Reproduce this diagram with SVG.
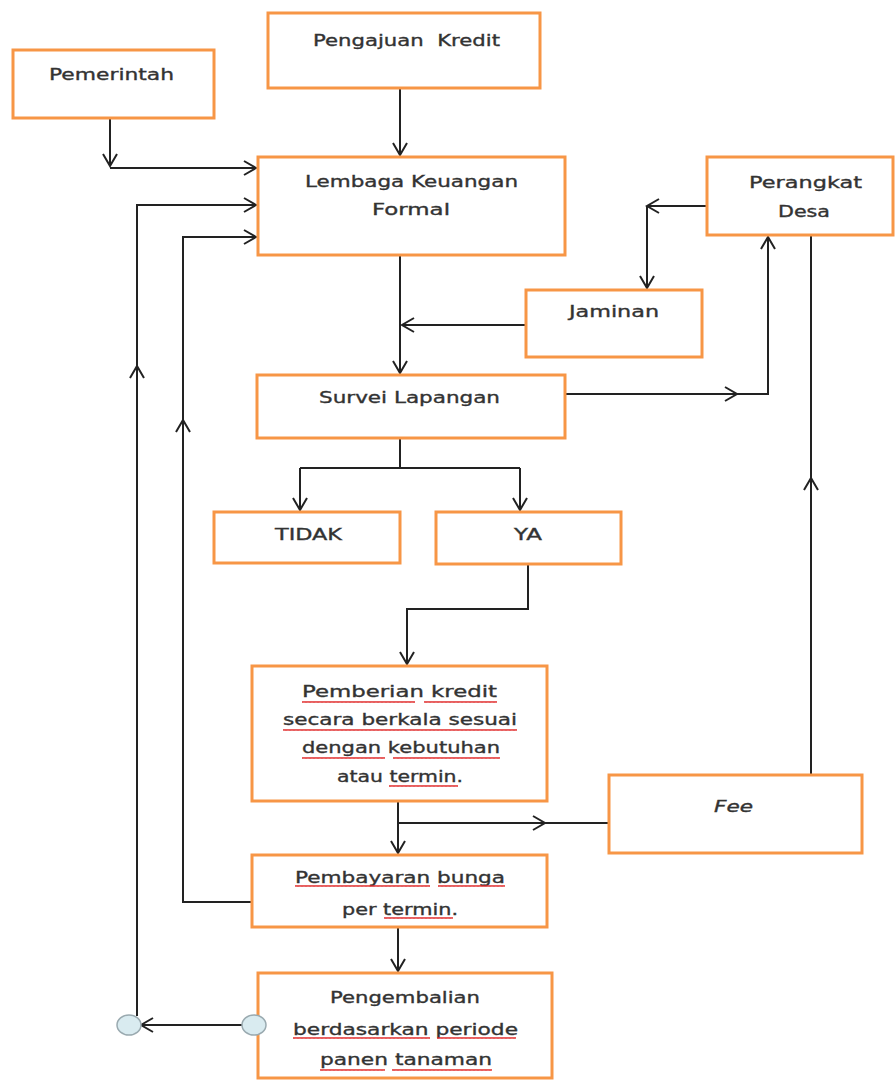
<svg xmlns="http://www.w3.org/2000/svg" width="896" height="1081" viewBox="0 0 896 1081">
<style>
.box{fill:#fff;stroke:#f79646;stroke-width:3}
.t{font-family:"DejaVu Sans","Liberation Sans",sans-serif;font-size:16px;fill:#333;stroke:#333;stroke-width:0.35}
.c{fill:none;stroke:#222;stroke-width:2}
.a{fill:none;stroke:#222;stroke-width:2;marker-end:url(#arr)}
.knob{fill:#d9ebf0;stroke:#9aaab0;stroke-width:1.5}
.sq{fill:url(#wavy)}
</style>
<defs>
<marker id="arr" viewBox="0 0 16 16" markerWidth="16" markerHeight="16" refX="14" refY="8" orient="auto" markerUnits="userSpaceOnUse">
<path d="M2,1 L14,8 L2,15" fill="none" stroke="#222" stroke-width="2"/>
</marker>
<pattern id="wavy" width="4" height="4" patternUnits="userSpaceOnUse">
<path d="M0,3 L1,1 L2,3 L3,1 L4,3" fill="none" stroke="#e02828" stroke-width="0.9"/>
</pattern>
</defs>

<g id="connectors">
<path class="a" d="M110,118 V166"/>
<path class="a" d="M110,168 H256"/>
<path class="a" d="M400,88 V155"/>
<path class="a" d="M137,1016 V366"/>
<path class="a" d="M137,368 V205 H256"/>
<path class="a" d="M252,902 H183 V420"/>
<path class="a" d="M183,422 V237 H256"/>
<path class="a" d="M400,255 V373"/>
<path class="a" d="M526,325 H402"/>
<path class="a" d="M707,206 H647"/>
<path class="a" d="M647,206 V288"/>
<path class="a" d="M565,394 H737"/>
<path class="a" d="M735,394 H768 V237"/>
<path class="a" d="M811,775 V478"/>
<path class="c" d="M811,480 V235"/>
<path class="c" d="M400,438 V468 M300,468 H520"/>
<path class="a" d="M300,468 V510"/>
<path class="a" d="M520,468 V510"/>
<path class="a" d="M528,564 V609 H407 V664"/>
<path class="a" d="M398,801 V853"/>
<path class="a" d="M398,823 H545"/>
<path class="c" d="M543,823 H609"/>
<path class="a" d="M398,927 V971"/>
<path class="a" d="M243,1025 H141"/>
</g>

<g id="pemerintah">
<rect class="box" x="13" y="50" width="201" height="68"/>
<text class="t" x="49" y="80" textLength="125" lengthAdjust="spacingAndGlyphs">Pemerintah</text>
</g>
<g id="pengajuan-kredit">
<rect class="box" x="268" y="13" width="272" height="75"/>
<text class="t" x="313" y="46" textLength="187" lengthAdjust="spacingAndGlyphs" xml:space="preserve">Pengajuan  Kredit</text>
</g>
<g id="lembaga-keuangan-formal">
<rect class="box" x="258" y="157" width="307" height="98"/>
<text class="t" x="305" y="187" textLength="213" lengthAdjust="spacingAndGlyphs">Lembaga Keuangan</text>
<text class="t" x="372" y="215" textLength="78" lengthAdjust="spacingAndGlyphs">Formal</text>
</g>
<g id="perangkat-desa">
<rect class="box" x="707" y="157" width="186" height="78"/>
<text class="t" x="749" y="188" textLength="113" lengthAdjust="spacingAndGlyphs">Perangkat</text>
<text class="t" x="778" y="217" textLength="52" lengthAdjust="spacingAndGlyphs">Desa</text>
</g>
<g id="jaminan">
<rect class="box" x="526" y="290" width="176" height="67"/>
<text class="t" x="569" y="317" textLength="90" lengthAdjust="spacingAndGlyphs">Jaminan</text>
</g>
<g id="survei-lapangan">
<rect class="box" x="257" y="375" width="308" height="63"/>
<text class="t" x="319" y="403" textLength="181" lengthAdjust="spacingAndGlyphs">Survei Lapangan</text>
</g>
<g id="tidak">
<rect class="box" x="214" y="512" width="186" height="51"/>
<text class="t" x="275" y="540" textLength="67" lengthAdjust="spacingAndGlyphs">TIDAK</text>
</g>
<g id="ya">
<rect class="box" x="436" y="512" width="185" height="52"/>
<text class="t" x="514" y="540" textLength="28" lengthAdjust="spacingAndGlyphs">YA</text>
</g>
<g id="pemberian-kredit">
<rect class="box" x="252" y="666" width="295" height="135"/>
<text class="t" x="302" y="697" textLength="195" lengthAdjust="spacingAndGlyphs">Pemberian kredit</text>
<text class="t" x="283" y="725" textLength="234" lengthAdjust="spacingAndGlyphs">secara berkala sesuai</text>
<text class="t" x="302" y="753" textLength="198" lengthAdjust="spacingAndGlyphs">dengan kebutuhan</text>
<text class="t" x="337" y="782" textLength="126" lengthAdjust="spacingAndGlyphs">atau termin.</text>
<rect class="sq" x="302" y="699" width="113" height="4"/>
<rect class="sq" x="424" y="699" width="73" height="4"/>
<rect class="sq" x="283" y="727" width="234" height="4"/>
<rect class="sq" x="302" y="755" width="83" height="4"/>
<rect class="sq" x="393" y="755" width="107" height="4"/>
<rect class="sq" x="389" y="784" width="69" height="4"/>
</g>
<g id="fee">
<rect class="box" x="609" y="775" width="253" height="78"/>
<text class="t" x="714" y="812" font-style="italic" textLength="39" lengthAdjust="spacingAndGlyphs">Fee</text>
</g>
<g id="pembayaran-bunga">
<rect class="box" x="252" y="855" width="295" height="72"/>
<text class="t" x="295" y="883" textLength="210" lengthAdjust="spacingAndGlyphs">Pembayaran bunga</text>
<text class="t" x="342" y="915" textLength="116" lengthAdjust="spacingAndGlyphs">per termin.</text>
<rect class="sq" x="295" y="885" width="135" height="4"/>
<rect class="sq" x="438" y="885" width="67" height="4"/>
<rect class="sq" x="384" y="917" width="69" height="4"/>
</g>
<g id="pengembalian">
<rect class="box" x="258" y="973" width="294" height="105"/>
<text class="t" x="330" y="1003" textLength="150" lengthAdjust="spacingAndGlyphs">Pengembalian</text>
<text class="t" x="293" y="1035" textLength="225" lengthAdjust="spacingAndGlyphs">berdasarkan periode</text>
<text class="t" x="320" y="1065" textLength="172" lengthAdjust="spacingAndGlyphs">panen tanaman</text>
<rect class="sq" x="293" y="1037" width="137" height="4"/>
<rect class="sq" x="437" y="1037" width="79" height="4"/>
<rect class="sq" x="320" y="1067" width="65" height="4"/>
<rect class="sq" x="392" y="1067" width="100" height="4"/>
</g>
<g id="connector-ends">
<ellipse class="knob" cx="254" cy="1025" rx="12" ry="10"/>
<ellipse class="knob" cx="129" cy="1025" rx="12" ry="10"/>
</g>
</svg>
